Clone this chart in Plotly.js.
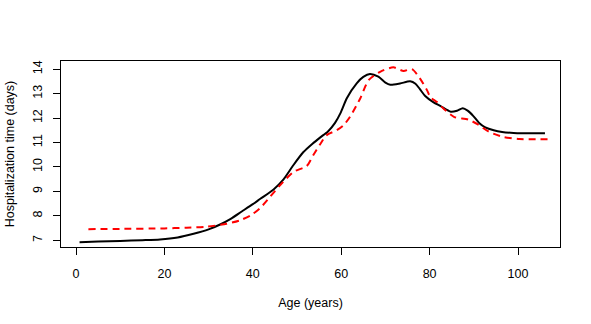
<!DOCTYPE html>
<html>
<head>
<meta charset="utf-8">
<script src="https://cdn.plot.ly/plotly-3.0.1.min.js"></script>
<style>html,body{margin:0;padding:0;background:#fff;}#chart{width:591px;height:324px;}</style>
</head>
<body>
<div id="chart"></div>
<script>
// Solid black curve: age (years) vs hospitalization time (days)
const ageSolid = [0.8, 5, 10, 15, 19, 23, 26.6, 30, 32.6, 35, 37.5, 40, 41.7, 44.7, 46.9, 49.2, 51.4, 53.5, 55.2, 57, 58.6, 59.8, 61.3, 63.5, 65, 66.5, 68.4, 70, 71.1, 73.3, 75.6, 76.8, 77.8, 79, 80.9, 82.4, 84.8, 86.2, 87.5, 88.6, 89.9, 91.2, 92.6, 94.5, 96.4, 99, 101.1, 106.1];
const daysSolid = [6.92, 6.95, 6.98, 7.01, 7.04, 7.12, 7.27, 7.45, 7.65, 7.88, 8.18, 8.48, 8.70, 9.08, 9.48, 10.08, 10.6, 10.95, 11.2, 11.45, 11.8, 12.19, 12.82, 13.42, 13.68, 13.8, 13.69, 13.45, 13.36, 13.41, 13.5, 13.4, 13.18, 12.9, 12.64, 12.5, 12.26, 12.3, 12.4, 12.3, 12.08, 11.8, 11.62, 11.5, 11.43, 11.39, 11.38, 11.38];
// Dashed red curve
const ageDashed = [2.8, 10, 20, 25, 29.6, 34.1, 37.1, 39.5, 41.7, 43.9, 46.2, 49.2, 52.2, 53.7, 55.2, 56.7, 59, 60.5, 62, 64.3, 66.2, 68.8, 71.8, 74.1, 76, 77.8, 79.4, 80.2, 81.6, 83.3, 85.6, 88.7, 91, 93.3, 96.4, 100.3, 104, 107.8];
const daysDashed = [7.46, 7.47, 7.49, 7.52, 7.56, 7.68, 7.82, 8.02, 8.33, 8.78, 9.26, 9.8, 10.04, 10.49, 10.92, 11.3, 11.5, 11.7, 12.05, 12.8, 13.55, 13.89, 14.07, 13.92, 14.0, 13.62, 13.14, 12.85, 12.66, 12.36, 12.04, 11.94, 11.73, 11.45, 11.24, 11.14, 11.13, 11.13];
const xTicks = [0, 20, 40, 60, 80, 100];
const yTicks = [7, 8, 9, 10, 11, 12, 13, 14];

const traces = [
  {x: ageSolid, y: daysSolid, type: 'scatter', mode: 'lines',
   line: {color: '#000000', width: 2, shape: 'spline', smoothing: 0.7}},
  {x: ageDashed, y: daysDashed, type: 'scatter', mode: 'lines',
   line: {color: '#ff0000', width: 2, dash: '7px,5px', shape: 'spline', smoothing: 0.7}}
];
const font = {family: 'Liberation Sans, Arial, sans-serif', size: 12.5, color: '#000'};
const layout = {
  width: 591, height: 324,
  margin: {l: 61, r: 31, t: 61, b: 77},
  paper_bgcolor: '#fff', plot_bgcolor: '#fff',
  showlegend: false,
  font: font,
  xaxis: {
    range: [-3.4, 109.5], tickvals: xTicks, ticktext: xTicks.map(String),
    showgrid: false, zeroline: false, showline: true, mirror: true,
    linecolor: '#000', linewidth: 1, ticks: 'outside', ticklen: 7, tickcolor: '#000',
    tickfont: font, ticklabelstandoff: 8,
    title: {text: 'Age (years)', font: font, standoff: 18}
  },
  yaxis: {
    range: [6.73, 14.33], tickvals: yTicks, ticktext: yTicks.map(String),
    showgrid: false, zeroline: false, showline: true, mirror: true,
    linecolor: '#000', linewidth: 1, ticks: 'outside', ticklen: 7, tickcolor: '#000',
    tickangle: -90, tickfont: font, ticklabelstandoff: 6,
    title: {text: 'Hospitalization time (days)', font: font, standoff: 13}
  }
};
Plotly.newPlot('chart', traces, layout, {displayModeBar: false, staticPlot: true});
</script>
</body>
</html>
